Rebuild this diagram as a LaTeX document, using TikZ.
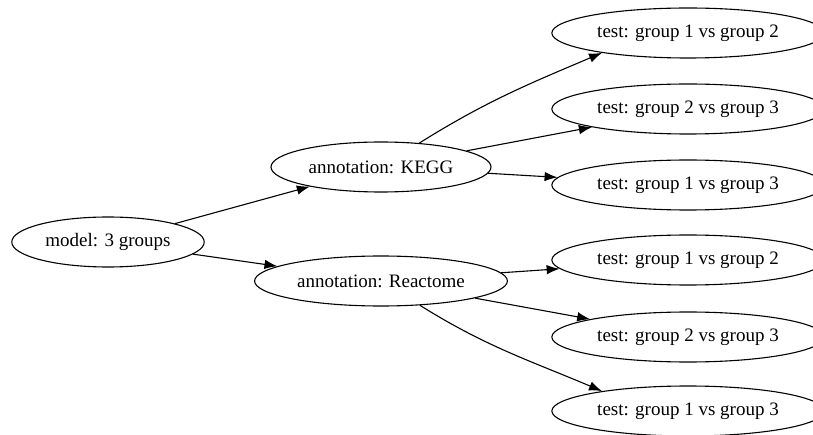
\documentclass[tikz,border=0pt]{standalone}
\usepackage{fontspec}
\setmainfont{Liberation Serif}
\usetikzlibrary{shapes.geometric,arrows.meta}
\tikzset{
  oval/.style={draw,ellipse,line width=1.1pt,inner xsep=5.5pt,inner ysep=0pt,minimum height=50pt,font=\fontsize{19}{22}\selectfont},
  link/.style={line width=1.1pt,-{Latex[length=13pt,width=9.5pt]}}
}
\begin{document}
\begin{tikzpicture}[x=1pt,y=-1pt]
		\useasboundingbox (0,0) rectangle (813,435);
		\node[oval] (model) at (108,242) {model: 3 groups};
		\node[oval] (kegg) at (381,167) {annotation: KEGG};
		\node[oval] (react) at (381,281) {annotation: Reactome};
		\foreach \n/\y/\t in {1/33/{group 1 vs group 2},2/109/{group 2 vs group 3},3/185/{group 1 vs group 3},
		4/260/{group 1 vs group 2},5/337/{group 2 vs group 3},6/411/{group 1 vs group 3}}
		\node[oval] (t\n) at (688,\y) {test: \t};
		\draw[link] (model) -- (kegg);
		\draw[link] (model) -- (react);
		\draw[link] (kegg) to[out=32,in=203] (t1.193);
		\draw[link] (kegg) -- (t2);
		\draw[link] (kegg) -- (t3);
		\draw[link] (react) -- (t4);
		\draw[link] (react) -- (t5);
		\draw[link] (react) to[out=-32,in=157] (t6.167);
		\end{tikzpicture}
\end{document}
